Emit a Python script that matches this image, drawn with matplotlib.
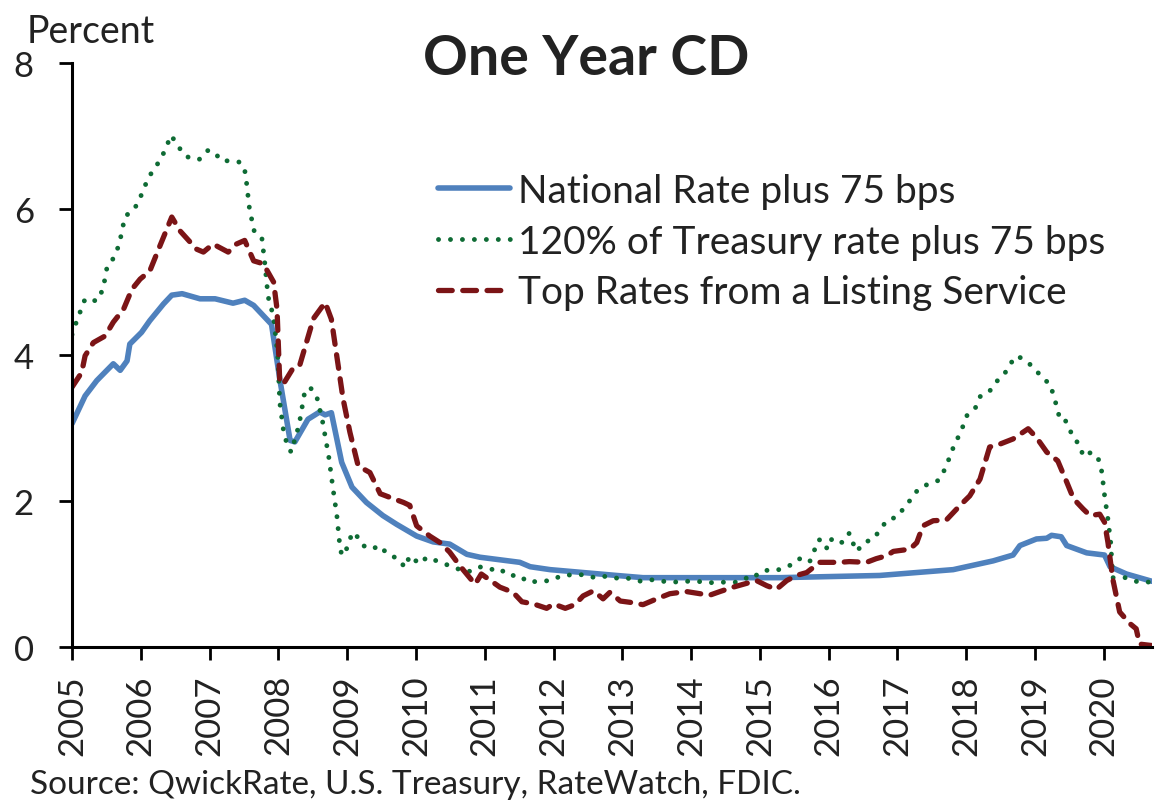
import matplotlib.pyplot as plt

# National Rate plus 75 bps
nat_x = [2005.0, 2005.19, 2005.36, 2005.6, 2005.7, 2005.8, 2005.84, 2006.01, 2006.13, 2006.33,
         2006.45, 2006.6, 2006.86, 2007.08, 2007.34, 2007.51, 2007.64, 2007.9, 2008.02, 2008.17,
         2008.24, 2008.43, 2008.6, 2008.68, 2008.77, 2008.92, 2009.07, 2009.28, 2009.52, 2009.72,
         2010.01, 2010.25, 2010.49, 2010.74, 2010.93, 2011.51, 2011.66, 2011.95, 2012.92, 2013.3,
         2014.85, 2015.29, 2016.74, 2017.81, 2018.1, 2018.39, 2018.68, 2018.78, 2019.02, 2019.17,
         2019.24, 2019.38, 2019.46, 2019.75, 2020.01, 2020.09, 2020.33, 2020.7]
nat_y = [3.06, 3.44, 3.65, 3.88, 3.79, 3.92, 4.15, 4.31, 4.47, 4.70,
         4.82, 4.84, 4.77, 4.77, 4.71, 4.75, 4.68, 4.42, 3.67, 2.83,
         2.81, 3.12, 3.22, 3.18, 3.21, 2.53, 2.19, 1.98, 1.80, 1.68,
         1.52, 1.44, 1.41, 1.27, 1.23, 1.16, 1.10, 1.06, 0.98, 0.95,
         0.95, 0.95, 0.98, 1.06, 1.12, 1.18, 1.26, 1.39, 1.48, 1.49,
         1.53, 1.51, 1.39, 1.29, 1.26, 1.10, 1.00, 0.90]

# 120% of Treasury rate plus 75 bps
tre_x = [2005.0, 2005.07, 2005.13, 2005.19, 2005.36, 2005.45, 2005.51, 2005.58, 2005.65, 2005.7,
         2005.77, 2005.9, 2005.98, 2006.04, 2006.11, 2006.21, 2006.3, 2006.37, 2006.44, 2006.53,
         2006.63, 2006.73, 2006.85, 2006.97, 2007.06, 2007.17, 2007.31, 2007.45, 2007.52, 2007.58,
         2007.65, 2007.76, 2007.8, 2007.85, 2007.93, 2007.99, 2008.02, 2008.08, 2008.15, 2008.19,
         2008.24, 2008.3, 2008.38, 2008.46, 2008.56, 2008.64, 2008.73, 2008.8, 2008.85, 2008.9,
         2008.94, 2009.02, 2009.07, 2009.14, 2009.23, 2009.36, 2009.47, 2009.59, 2009.74, 2009.84,
         2009.91, 2010.05, 2010.16, 2010.3, 2010.47, 2010.61, 2010.76, 2010.92, 2011.08, 2011.21,
         2011.34, 2011.51, 2011.62, 2011.79, 2011.96, 2012.12, 2012.29, 2012.44, 2012.6, 2012.77,
         2012.94, 2013.11, 2013.27, 2013.43, 2013.59, 2013.76, 2013.92, 2014.09, 2014.26, 2014.43,
         2014.6, 2014.76, 2014.87, 2014.98, 2015.12, 2015.28, 2015.44, 2015.57, 2015.72, 2015.79,
         2015.85, 2015.92, 2015.98, 2016.05, 2016.2, 2016.3, 2016.35, 2016.41, 2016.51, 2016.65,
         2016.75, 2016.85, 2016.99, 2017.09, 2017.2, 2017.3, 2017.44, 2017.59, 2017.68, 2017.75,
         2017.81, 2017.88, 2017.95, 2018.01, 2018.13, 2018.2, 2018.33, 2018.42, 2018.55, 2018.63,
         2018.74, 2018.88, 2019.0, 2019.1, 2019.22, 2019.27, 2019.32, 2019.36, 2019.43, 2019.49,
         2019.55, 2019.65, 2019.7, 2019.82, 2019.93, 2019.97, 2020.01, 2020.06, 2020.1, 2020.13,
         2020.32, 2020.5, 2020.7]
tre_y = [4.28, 4.47, 4.62, 4.77, 4.74, 4.90, 5.21, 5.29, 5.42, 5.58,
         5.90, 5.99, 6.13, 6.27, 6.43, 6.57, 6.70, 6.85, 7.01, 6.88,
         6.74, 6.69, 6.68, 6.80, 6.79, 6.66, 6.66, 6.64, 6.50, 6.00,
         5.69, 5.60, 5.28, 4.80, 4.52, 4.00, 3.35, 2.92, 2.71, 2.67,
         2.85, 3.04, 3.48, 3.56, 3.42, 3.10, 2.62, 2.13, 1.80, 1.32,
         1.25, 1.40, 1.57, 1.52, 1.39, 1.34, 1.39, 1.27, 1.21, 1.09,
         1.25, 1.14, 1.23, 1.18, 1.12, 1.07, 1.03, 1.10, 1.06, 1.08,
         0.98, 0.98, 0.89, 0.90, 0.91, 0.98, 0.99, 0.99, 0.95, 0.97,
         0.94, 0.94, 0.90, 0.92, 0.90, 0.89, 0.90, 0.90, 0.88, 0.89,
         0.88, 0.91, 1.00, 0.98, 1.06, 1.06, 1.12, 1.21, 1.16, 1.32,
         1.47, 1.46, 1.34, 1.49, 1.43, 1.56, 1.43, 1.31, 1.43, 1.48,
         1.61, 1.74, 1.78, 1.90, 2.03, 2.16, 2.23, 2.28, 2.42, 2.58,
         2.73, 2.87, 3.02, 3.17, 3.27, 3.43, 3.49, 3.62, 3.73, 3.87,
         3.99, 3.91, 3.81, 3.69, 3.60, 3.44, 3.28, 3.12, 3.12, 3.02,
         2.87, 2.77, 2.61, 2.67, 2.56, 2.40, 2.08, 1.75, 1.43, 0.95,
         0.95, 0.89, 0.89]

# Top Rates from a Listing Service
top_x = [2005.0, 2005.14, 2005.19, 2005.31, 2005.48, 2005.6, 2005.75, 2005.87, 2005.99, 2006.13,
         2006.28, 2006.45, 2006.57, 2006.81, 2006.91, 2007.05, 2007.27, 2007.39, 2007.51, 2007.64,
         2007.78, 2007.93, 2007.98, 2008.02, 2008.07, 2008.22, 2008.31, 2008.51, 2008.68, 2008.77,
         2008.87, 2008.94, 2009.04, 2009.16, 2009.33, 2009.48, 2009.62, 2009.82, 2009.91, 2010.01,
         2010.2, 2010.35, 2010.49, 2010.64, 2010.86, 2010.95, 2011.22, 2011.41, 2011.54, 2011.71,
         2011.9, 2012.0, 2012.17, 2012.31, 2012.43, 2012.58, 2012.72, 2012.82, 2012.97, 2013.13,
         2013.3, 2013.5, 2013.69, 2013.93, 2014.13, 2014.27, 2014.42, 2014.61, 2014.76, 2014.95,
         2015.1, 2015.24, 2015.39, 2015.53, 2015.68, 2015.87, 2016.16, 2016.3, 2016.55, 2016.69,
         2016.84, 2016.94, 2017.18, 2017.28, 2017.37, 2017.52, 2017.71, 2017.91, 2018.05, 2018.2,
         2018.34, 2018.49, 2018.68, 2018.9, 2019.02, 2019.17, 2019.33, 2019.46, 2019.56, 2019.7,
         2019.8, 2019.94, 2020.01, 2020.06, 2020.13, 2020.23, 2020.38, 2020.47, 2020.52, 2020.7]
top_y = [3.56, 3.76, 3.99, 4.17, 4.26, 4.45, 4.63, 4.90, 5.04, 5.15,
         5.50, 5.89, 5.70, 5.45, 5.41, 5.52, 5.41, 5.52, 5.57, 5.29,
         5.25, 5.00, 4.63, 3.62, 3.60, 3.83, 3.86, 4.50, 4.72, 4.49,
         3.85, 3.40, 2.94, 2.48, 2.39, 2.10, 2.05, 1.98, 1.94, 1.66,
         1.52, 1.43, 1.30, 1.11, 0.86, 1.00, 0.82, 0.75, 0.62, 0.59,
         0.53, 0.59, 0.53, 0.58, 0.70, 0.77, 0.66, 0.75, 0.63, 0.61,
         0.58, 0.66, 0.73, 0.76, 0.73, 0.71, 0.76, 0.82, 0.86, 0.91,
         0.84, 0.79, 0.91, 0.98, 1.02, 1.16, 1.16, 1.17, 1.16, 1.21,
         1.25, 1.31, 1.34, 1.43, 1.66, 1.73, 1.74, 1.94, 2.07, 2.30,
         2.74, 2.78, 2.85, 2.99, 2.87, 2.67, 2.55, 2.26, 2.03, 1.89,
         1.80, 1.82, 1.71, 1.43, 0.93, 0.48, 0.32, 0.25, 0.04, 0.02]

years = list(range(2005, 2021))
yticks = [0, 2, 4, 6, 8]

txt = '#222222'
plt.rcParams['font.family'] = ['Lato', 'DejaVu Sans']
plt.rcParams['text.color'] = txt

fig = plt.figure(figsize=(11.6, 8.03), dpi=100)
ax = fig.add_axes([0.0621, 0.193, 0.931, 0.7273])

ax.plot(nat_x, nat_y, color='#4F81BD', lw=4.0, solid_capstyle='round',
        label='National Rate plus 75 bps')
ax.plot(tre_x, tre_y, color='#0E6B34', lw=3.5, linestyle=(0, (0.01, 2.45)),
        dash_capstyle='round', label='120% of Treasury rate plus 75 bps')
ax.plot(top_x, top_y, color='#7B1416', lw=3.8, linestyle=(0, (2.6, 2.0)),
        dash_capstyle='round', label='Top Rates from a Listing Service')

ax.set_xlim(2005, 2020.7)
ax.set_ylim(0, 8)
ax.set_xticks(years)
ax.set_xticklabels([str(y) for y in years], rotation=90, fontsize=25, color=txt)
ax.set_yticks(yticks)
ax.set_yticklabels([str(v) for v in yticks], fontsize=25, color=txt)
ax.tick_params(axis='x', length=9.5, width=2, direction='out', pad=10)
ax.tick_params(axis='y', length=9.5, width=2, direction='out', pad=18)

for side in ['top', 'right']:
    ax.spines[side].set_visible(False)
for side in ['left', 'bottom']:
    ax.spines[side].set_linewidth(2.2)

leg = ax.legend(loc='upper left', bbox_to_anchor=(0.339, 0.812), frameon=False,
                fontsize=28, handlelength=1.85, handletextpad=0.2, labelspacing=0.38,
                borderpad=0, borderaxespad=0)
for t in leg.get_texts():
    t.set_color(txt)

fig.text(0.505, 0.9066, 'One Year CD', fontsize=40, fontweight='bold', ha='center', va='baseline')
fig.text(0.023, 0.9465, 'Percent', fontsize=27, ha='left', va='baseline')
fig.text(0.026, 0.011, 'Source: QwickRate, U.S. Treasury, RateWatch, FDIC.', fontsize=24,
         ha='left', va='baseline')

plt.savefig('out.png', dpi=100)
